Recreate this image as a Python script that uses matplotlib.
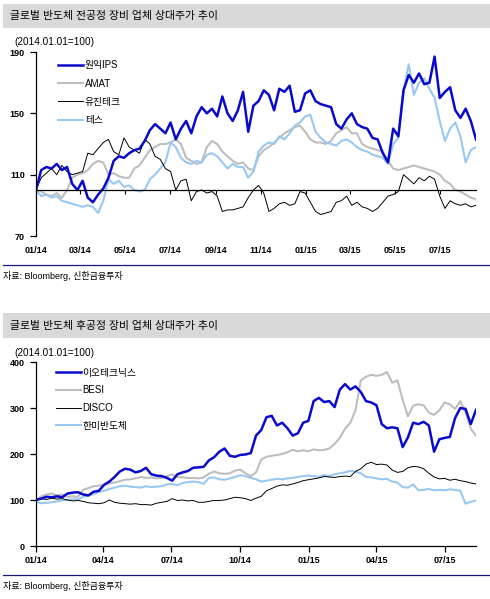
import matplotlib
matplotlib.use("Agg")
import matplotlib.pyplot as plt
import matplotlib.dates as mdates
from matplotlib.patches import Rectangle
from matplotlib.lines import Line2D
import pandas as pd

plt.rcParams['font.family'] = ['Liberation Sans', 'Noto Sans CJK KR']

# weekly samples, base 2014.01.01 = 100
dates_top = pd.date_range('2014-01-01', periods=86, freq='7D')
dates_bot = pd.date_range('2014-01-01', periods=85, freq='7D')

title_top = "글로벌 반도체 전공정 장비 업체 상대주가 추이"
title_bot = "글로벌 반도체 후공정 장비 업체 상대주가 추이"
base_note = "(2014.01.01=100)"
source = "자료: Bloomberg, 신한금융투자"

wonik_ips = [100, 113, 115, 114, 117, 113, 115, 104, 100, 106, 95, 92, 97, 101, 108, 119, 122, 121, 124, 126,
             127, 132, 139, 143, 140, 137, 144, 133, 140, 145, 137, 148, 154, 150, 153, 148, 161, 150, 145, 152,
             164, 138, 155, 158, 165, 162, 152, 166, 164, 168, 151, 152, 163, 165, 158, 156, 155, 154, 143, 140,
             146, 150, 143, 141, 140, 134, 133, 124, 118, 140, 135, 165, 175, 170, 176, 169, 170, 187, 160, 164,
             167, 152, 147, 153, 145, 133]
amat = [100, 99, 97, 96, 98, 95, 100, 108, 110, 111, 113, 117, 119, 118, 110, 111, 109, 108, 108, 114,
        116, 121, 126, 128, 130, 130, 131, 133, 130, 121, 119, 117, 118, 128, 132, 130, 125, 122, 119, 117,
        118, 114, 113, 122, 126, 128, 131, 134, 137, 139, 141, 142, 138, 133, 131, 131, 130, 132, 137, 139,
        141, 137, 137, 130, 128, 127, 126, 125, 119, 114, 113, 114, 115, 116, 115, 114, 113, 112, 110, 106,
        104, 100, 99, 97, 95, 94]
eugene = [100, 108, 111, 114, 110, 116, 112, 110, 111, 112, 124, 123, 127, 131, 133, 125, 123, 134, 128, 126,
          124, 133, 130, 122, 120, 114, 112, 100, 106, 107, 93, 99, 100, 98, 99, 96, 86, 87, 87, 88,
          89, 95, 100, 103, 98, 86, 88, 91, 92, 90, 91, 99, 98, 92, 86, 84, 85, 86, 92, 93,
          96, 90, 92, 89, 88, 86, 88, 92, 96, 97, 99, 110, 107, 104, 108, 106, 109, 107, 96, 88,
          93, 91, 90, 91, 89, 90]
tes = [100, 96, 97, 95, 96, 93, 92, 91, 90, 89, 90, 89, 85, 93, 107, 104, 106, 102, 103, 100,
       99, 100, 107, 110, 114, 118, 131, 128, 121, 118, 117, 119, 118, 123, 124, 122, 118, 114, 117, 115,
       115, 108, 112, 125, 129, 131, 130, 135, 133, 137, 142, 144, 148, 149, 138, 134, 131, 130, 129, 132,
       133, 131, 128, 126, 125, 123, 122, 121, 117, 130, 134, 165, 182, 162, 170, 173, 166, 160, 145, 132,
       140, 144, 135, 118, 126, 128]

eo_tech = [100, 103, 107, 106, 108, 106, 114, 116, 117, 112, 110, 118, 120, 133, 140, 150, 162, 168, 166, 160,
           163, 170, 156, 153, 152, 148, 142, 156, 160, 163, 170, 171, 172, 186, 193, 205, 212, 196, 194, 198,
           199, 202, 240, 252, 280, 283, 262, 268, 256, 240, 245, 268, 272, 315, 322, 313, 315, 302, 340, 352,
           340, 347, 335, 315, 312, 306, 265, 256, 258, 256, 215, 236, 268, 265, 270, 262, 205, 232, 235, 237,
           278, 300, 298, 265, 296]
besi = [100, 108, 112, 114, 110, 112, 107, 108, 107, 122, 126, 130, 131, 133, 136, 138, 141, 144, 145, 147,
        150, 148, 149, 147, 148, 152, 156, 150, 149, 148, 148, 147, 149, 157, 162, 158, 157, 158, 164, 166,
        158, 152, 160, 188, 194, 196, 198, 200, 204, 209, 206, 208, 206, 210, 208, 209, 212, 222, 235, 255,
        268, 295, 360, 368, 372, 370, 372, 378, 355, 360, 318, 282, 305, 308, 306, 290, 285, 295, 312, 308,
        298, 315, 290, 255, 240]
disco = [100, 103, 101, 104, 102, 103, 100, 98, 99, 97, 94, 93, 92, 94, 100, 95, 93, 92, 91, 92,
         90, 90, 89, 93, 95, 97, 103, 99, 100, 98, 99, 95, 95, 97, 99, 99, 100, 103, 106, 105,
         103, 99, 104, 108, 120, 125, 130, 133, 132, 135, 138, 142, 144, 146, 148, 151, 150, 149, 151, 152,
         151, 162, 168, 178, 182, 177, 178, 176, 165, 160, 162, 170, 173, 172, 168, 158, 150, 146, 147, 143,
         145, 142, 140, 137, 135]
hanmi = [96, 93, 94, 95, 97, 99, 100, 102, 101, 107, 109, 113, 117, 120, 124, 127, 130, 131, 129, 128,
         127, 130, 128, 129, 130, 134, 135, 132, 137, 139, 140, 139, 135, 148, 149, 145, 144, 147, 150, 154,
         152, 148, 145, 140, 142, 144, 146, 145, 147, 148, 150, 152, 153, 152, 150, 154, 152, 156, 158, 160,
         163, 162, 158, 150, 149, 147, 145, 146, 140, 138, 128, 127, 134, 121, 122, 124, 121, 122, 121, 123,
         122, 120, 92, 96, 99]

DARK = '#0A0ACC'
GRAY = '#BEBEBE'
LIGHT = '#99C8F2'
BLACK = '#000000'
NAVY = '#1A1A7A'

fig = plt.figure(figsize=(4.9, 5.99), dpi=100)
W, H = 490.0, 599.0


def fx(px):
    return px / W


def fy(py):
    return 1 - py / H


def header(py_top, py_bot, title, note_y):
    fig.patches.append(Rectangle((fx(3), fy(py_bot)), fx(487), (py_bot - py_top) / H,
                                 transform=fig.transFigure, facecolor='#D9D9D9', edgecolor='none', zorder=0))
    fig.text(fx(10), fy((py_top + py_bot) / 2), title, fontsize=7.8, va='center', ha='left')
    fig.text(fx(14), fy(note_y), base_note, fontsize=7.2, va='center', ha='left')


def footer(py):
    fig.add_artist(Line2D([fx(3), fx(490)], [fy(py), fy(py)], transform=fig.transFigure, color=NAVY, lw=0.9))
    fig.text(fx(3), fy(py + 11), source, fontsize=6.5, va='center', ha='left')


def style_axes(ax):
    for s in ['top', 'right']:
        ax.spines[s].set_visible(False)
    ax.spines['left'].set_linewidth(0.9)
    ax.spines['bottom'].set_linewidth(0.9)
    ax.tick_params(axis='y', direction='out', length=4, width=0.9, pad=4, labelsize=6.5)
    for lab in ax.get_yticklabels():
        lab.set_fontweight('bold')


# ---- top chart ----
header(4, 28, title_top, 42)
ax1 = fig.add_axes([fx(36), fy(236), fx(440), 184 / H])
ax1.plot(dates_top, amat, color=GRAY, lw=1.5, label='AMAT')
ax1.plot(dates_top, tes, color=LIGHT, lw=1.5, label='테스')
ax1.plot(dates_top, eugene, color=BLACK, lw=0.7, label='유진테크')
ax1.plot(dates_top, wonik_ips, color=DARK, lw=1.8, label='원익IPS')
ax1.set_ylim(70, 190)
ax1.set_yticks([70, 110, 150, 190])
ax1.set_xlim(dates_top[0], dates_top[-1])
ax1.spines['bottom'].set_position(('data', 100))
ax1.xaxis.set_major_locator(mdates.MonthLocator(bymonth=[1, 3, 5, 7, 9, 11]))
ax1.tick_params(axis='x', direction='out', length=3, width=0.8, labelbottom=False)
style_axes(ax1)
sec1 = ax1.secondary_xaxis('bottom')
sec1.spines['bottom'].set_visible(False)
sec1.xaxis.set_major_locator(mdates.MonthLocator(bymonth=[1, 3, 5, 7, 9, 11]))
sec1.xaxis.set_major_formatter(mdates.DateFormatter('%m/%y'))
sec1.tick_params(length=0, pad=7, labelsize=6.5)
for lab in sec1.get_xticklabels():
    lab.set_fontweight('bold')
h, l = ax1.get_legend_handles_labels()
order = [3, 0, 2, 1]
ax1.legend([h[i] for i in order], [l[i] for i in order], loc='upper left', bbox_to_anchor=(0.05, 0.955),
           frameon=False, fontsize=7, handlelength=2.6, handletextpad=0.15, labelspacing=0.85,
           borderpad=0, borderaxespad=0)
footer(265)

# ---- bottom chart ----
header(313, 338, title_bot, 353)
ax2 = fig.add_axes([fx(36), fy(546), fx(440), 184 / H])
ax2.plot(dates_bot, besi, color=GRAY, lw=1.5, label='BESI')
ax2.plot(dates_bot, hanmi, color=LIGHT, lw=1.5, label='한미반도체')
ax2.plot(dates_bot, disco, color=BLACK, lw=0.7, label='DISCO')
ax2.plot(dates_bot, eo_tech, color=DARK, lw=1.8, label='이오테크닉스')
ax2.set_ylim(0, 400)
ax2.set_yticks([0, 100, 200, 300, 400])
ax2.set_xlim(dates_bot[0], dates_bot[-1])
ax2.xaxis.set_major_locator(mdates.MonthLocator(bymonth=[1, 4, 7, 10]))
ax2.xaxis.set_major_formatter(mdates.DateFormatter('%m/%y'))
ax2.tick_params(axis='x', direction='out', length=4, width=0.9, pad=3, labelsize=6.5)
for lab in ax2.get_xticklabels():
    lab.set_fontweight('bold')
style_axes(ax2)
h, l = ax2.get_legend_handles_labels()
ax2.legend([h[i] for i in order], [l[i] for i in order], loc='upper left', bbox_to_anchor=(0.045, 0.97),
           frameon=False, fontsize=7, handlelength=2.6, handletextpad=0.15, labelspacing=0.8,
           borderpad=0, borderaxespad=0)
footer(575)

fig.savefig('out.png', dpi=100)
